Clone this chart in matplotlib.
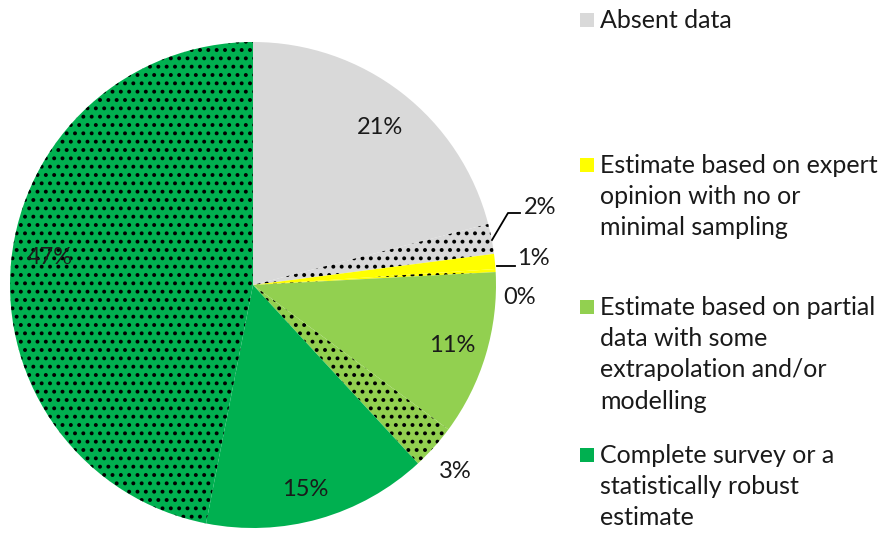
import matplotlib
matplotlib.use("Agg")
import matplotlib.pyplot as plt
from matplotlib.patches import Rectangle

plt.rcParams["font.family"] = ["Lato", "DejaVu Sans"]
plt.rcParams["hatch.linewidth"] = 1.6

# slices, clockwise from 12 o'clock
shares = [21, 2, 1, 0.2, 11, 3, 15, 47]
labels = ["21%", "2%", "1%", "0%", "11%", "3%", "15%", "47%"]
colors = ["#D9D9D9", "#D9D9D9", "#FFFF00", "#FFFF00",
          "#92D050", "#92D050", "#00B050", "#00B050"]
dotted = [False, True, False, True, False, True, False, True]

legend_names = [
    "Absent data",
    "Estimate based on expert\nopinion with no or\nminimal sampling",
    "Estimate based on partial\ndata with some\nextrapolation and/or\nmodelling",
    "Complete survey or a\nstatistically robust\nestimate",
]
legend_colors = ["#D9D9D9", "#FFFF00", "#92D050", "#00B050"]

W, H = 880, 534
fig = plt.figure(figsize=(W / 100, H / 100), dpi=100)
ax = fig.add_axes([10 / W, 6 / H, 486 / W, 486 / H])

wedges, _ = ax.pie(shares, colors=colors, startangle=90, counterclock=False,
                   radius=1, wedgeprops=dict(linewidth=0))
for w, d in zip(wedges, dotted):
    if d:
        w.set_hatch("..")
        w.set_edgecolor("black")
        w.set_linewidth(0)
ax.set_xlim(-1, 1)
ax.set_ylim(-1, 1)
ax.set_aspect("equal")
ax.axis("off")

# label positions in pixels (x, y from top)
label_px = [(380, 127), (540, 207), (533, 258), (520, 298),
            (452, 345), (455, 472), (305, 490), (50, 257)]
for (px, py), lab in zip(label_px, labels):
    fig.text(px / W, 1 - py / H, lab, ha="center", va="center", fontsize=17,
             color="#1a1a1a")

# leader lines for the two thin slices
def to_fig(pts):
    return [p[0] / W for p in pts], [1 - p[1] / H for p in pts]

for pts in ([(492, 240), (508, 213), (520, 213)],
            [(497, 266), (515, 266)]):
    xs, ys = to_fig(pts)
    fig.add_artist(plt.Line2D(xs, ys, color="black", lw=1.3))

# legend, placed by hand as the gaps are uneven
legend_y = [20, 165, 307, 455]
for name, col, ly in zip(legend_names, legend_colors, legend_y):
    fig.add_artist(Rectangle((580 / W, 1 - (ly + 7) / H), 14 / W, 14 / H,
                             transform=fig.transFigure, facecolor=col,
                             edgecolor="none"))
    fig.text(600 / W, 1 - (ly - 11) / H, name, ha="left", va="top",
             fontsize=18, color="#1a1a1a", linespacing=1.43)

fig.savefig("out.png", dpi=100)
